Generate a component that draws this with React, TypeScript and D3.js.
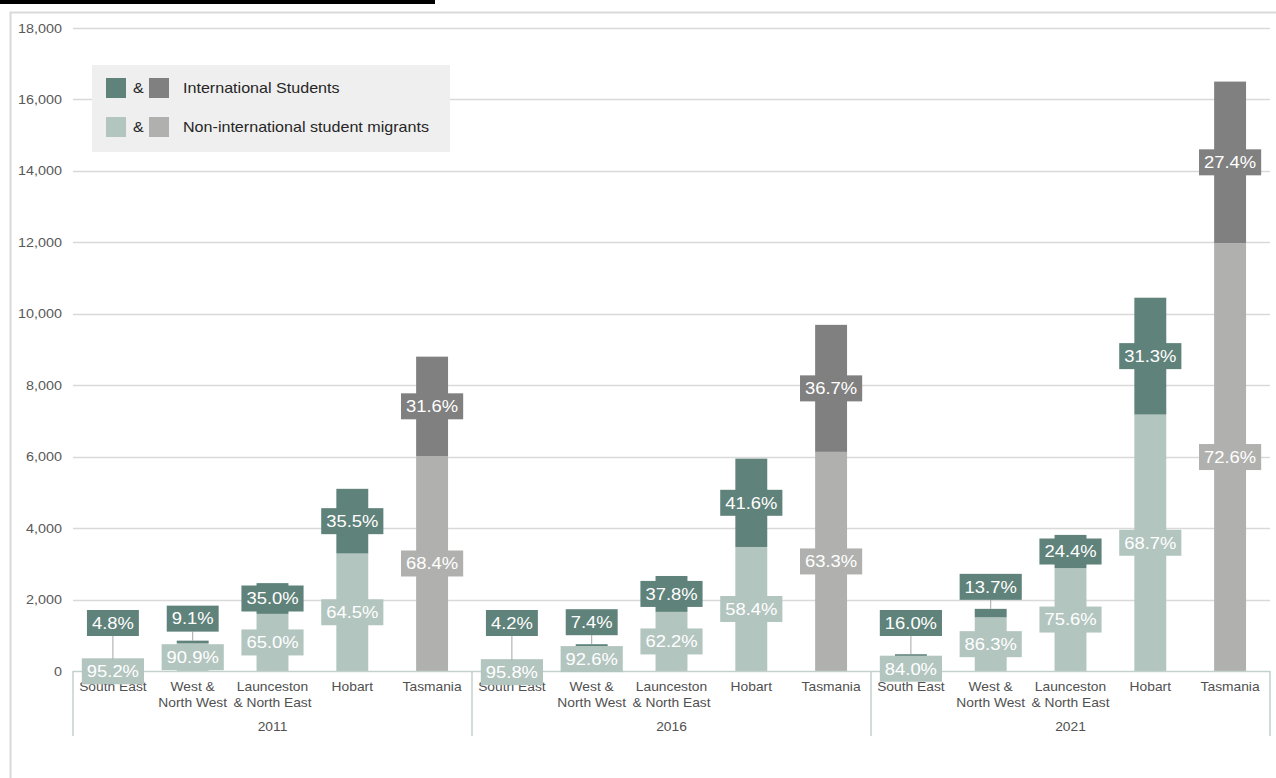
import * as d3 from "d3";
import React, { useEffect, useRef } from "react";

// regions and census years
const regions = ["South East", "West &\nNorth West", "Launceston\n& North East", "Hobart", "Tasmania"];
const years = ["2011", "2016", "2021"];

// counts (international students / other migrants), per year
const intl2011 = [16, 77, 861, 1811, 2781];
const other2011 = [314, 773, 1599, 3289, 6019];
const intl2016 = [13, 56, 1005, 2473, 3556];
const other2016 = [287, 694, 1655, 3472, 6134];
const intl2021 = [75, 238, 930, 3271, 4521];
const other2021 = [395, 1502, 2880, 7179, 11979];

// share labels as printed on the chart
const intlPct2011 = ["4.8%", "9.1%", "35.0%", "35.5%", "31.6%"];
const otherPct2011 = ["95.2%", "90.9%", "65.0%", "64.5%", "68.4%"];
const intlPct2016 = ["4.2%", "7.4%", "37.8%", "41.6%", "36.7%"];
const otherPct2016 = ["95.8%", "92.6%", "62.2%", "58.4%", "63.3%"];
const intlPct2021 = ["16.0%", "13.7%", "24.4%", "31.3%", "27.4%"];
const otherPct2021 = ["84.0%", "86.3%", "75.6%", "68.7%", "72.6%"];

const yTicks = [0, 2000, 4000, 6000, 8000, 10000, 12000, 14000, 16000, 18000];
const legendItems = ["International Students", "Non-international student migrants"];

const width = 1276;
const height = 778;
const SX = 1.15; // text in the original is a bit wide
const FONT = "'Liberation Sans', Arial, sans-serif";

const colors = {
    intl: "#5f827a",
    other: "#b3c5bf",
    intlTas: "#808080",
    otherTas: "#b0b1ae",
};

const App: React.FC = () => {
    const wrapper = useRef<SVGSVGElement>(null);

    useEffect(() => {
        if (!wrapper.current) return;
        const svg = d3.select(wrapper.current);
        svg.selectAll("*").remove();

        const rows = [
            { year: years[0], intl: intl2011, other: other2011, ip: intlPct2011, op: otherPct2011 },
            { year: years[1], intl: intl2016, other: other2016, ip: intlPct2016, op: otherPct2016 },
            { year: years[2], intl: intl2021, other: other2021, ip: intlPct2021, op: otherPct2021 },
        ];
        const bars = rows.flatMap((r) =>
            regions.map((reg, i) => ({
                key: `${r.year}-${i}`,
                year: r.year,
                region: reg,
                tas: i === regions.length - 1,
                intl: r.intl[i],
                other: r.other[i],
                ip: r.ip[i],
                op: r.op[i],
            }))
        );

        const left = 73;
        const right = 1270;
        const x = d3.scaleBand<string>()
            .domain(bars.map((b) => b.key))
            .range([left, right])
            .paddingInner(0.6)
            .paddingOuter(0.3);
        const step = x.step();
        const y = d3.scaleLinear().domain([0, 18000]).range([671, 28]);
        const y0 = y(0);

        const txt = (
            g: d3.Selection<any, unknown, null, undefined>,
            tx: number, ty: number, s: string, size: number, anchor: string, fill: string
        ) =>
            g.append("text")
                .attr("transform", `translate(${tx},${ty}) scale(${SX},1)`)
                .attr("text-anchor", anchor)
                .attr("font-family", FONT)
                .attr("font-size", size)
                .attr("fill", fill)
                .text(s);

        // top rule and chart frame
        svg.append("rect").attr("x", 0).attr("y", 0).attr("width", 435).attr("height", 4).attr("fill", "#000");
        svg.append("path")
            .attr("d", `M10.5,${height} V12.5 H${width}`)
            .attr("fill", "none")
            .attr("stroke", "#d9d9d9")
            .attr("stroke-width", 2);

        // grid + y labels
        const grid = svg.append("g");
        yTicks.forEach((t) => {
            if (t > 0) {
                grid.append("line")
                    .attr("x1", left).attr("x2", right)
                    .attr("y1", Math.round(y(t)) + 0.5).attr("y2", Math.round(y(t)) + 0.5)
                    .attr("stroke", "#d9d9d9").attr("stroke-width", 1.5);
            }
            txt(grid, 62, y(t) + 4.5, d3.format(",")(t), 12.5, "end", "#595959");
        });

        // legend
        const lg = svg.append("g");
        lg.append("rect").attr("x", 92).attr("y", 65).attr("width", 358).attr("height", 87).attr("fill", "#efefef");
        legendItems.forEach((name, i) => {
            const cy = 88 + i * 39;
            lg.append("rect").attr("x", 106).attr("y", cy - 10).attr("width", 20).attr("height", 20)
                .attr("fill", i === 0 ? colors.intl : colors.other);
            txt(lg, 133, cy + 5, "&", 14, "start", "#262626");
            lg.append("rect").attr("x", 149).attr("y", cy - 10).attr("width", 20).attr("height", 20)
                .attr("fill", i === 0 ? colors.intlTas : colors.otherTas);
            txt(lg, 183, cy + 5, name, 14, "start", "#262626");
        });

        // bars
        const bg = svg.append("g");
        bars.forEach((b) => {
            const bx = x(b.key)!;
            const bw = x.bandwidth();
            bg.append("rect")
                .attr("x", bx).attr("width", bw)
                .attr("y", y(b.other)).attr("height", y0 - y(b.other))
                .attr("fill", b.tas ? colors.otherTas : colors.other);
            bg.append("rect")
                .attr("x", bx).attr("width", bw)
                .attr("y", y(b.other + b.intl)).attr("height", y(b.other) - y(b.other + b.intl))
                .attr("fill", b.tas ? colors.intlTas : colors.intl);
        });

        // category axis
        const ax = svg.append("g");
        const axisColor = "#c3d1cd";
        ax.append("line").attr("x1", left).attr("x2", right).attr("y1", y0 + 0.5).attr("y2", y0 + 0.5)
            .attr("stroke", axisColor).attr("stroke-width", 1.5);
        years.forEach((yr, gi) => {
            const gx0 = left + gi * 5 * step;
            ax.append("line").attr("x1", gx0).attr("x2", gx0).attr("y1", y0).attr("y2", 736)
                .attr("stroke", axisColor).attr("stroke-width", 1.5);
            txt(ax, gx0 + 2.5 * step, 731, yr, 12, "middle", "#505050");
        });
        ax.append("line").attr("x1", right).attr("x2", right).attr("y1", y0).attr("y2", 736)
            .attr("stroke", axisColor).attr("stroke-width", 1.5);
        bars.forEach((b) => {
            const cx = x(b.key)! + x.bandwidth() / 2;
            b.region.split("\n").forEach((line, li) => {
                txt(ax, cx, 691 + li * 16, line, 12, "middle", "#505050");
            });
        });

        // data labels
        const lbl = svg.append("g");
        const boxH = 26;
        const label = (cx: number, cy: number, s: string, fill: string) => {
            const g = lbl.append("g");
            const rect = g.append("rect").attr("fill", fill);
            const t = txt(g, cx, cy + 5.8, s, 16, "middle", "#ffffff");
            const w = (t.node() as SVGTextElement).getComputedTextLength() * SX + 10;
            rect.attr("x", cx - w / 2).attr("y", cy - boxH / 2).attr("width", w).attr("height", boxH);
        };
        bars.forEach((b) => {
            const cx = x(b.key)! + x.bandwidth() / 2;
            const top = y(b.other + b.intl);
            const mid = y(b.other);
            const intlH = mid - top;
            const otherH = y0 - mid;

            let oc = (y0 + mid) / 2;
            oc += Math.max(0, boxH / 2 - otherH / 2) * 0.8;
            label(cx, oc, b.op, b.tas ? colors.otherTas : colors.other);

            if (intlH >= boxH) {
                label(cx, (top + mid) / 2, b.ip, b.tas ? colors.intlTas : colors.intl);
            } else {
                const ic = Math.min(top - 22, y0 - 48);
                if (top - (ic + boxH / 2) > 3) {
                    lbl.append("line")
                        .attr("x1", cx).attr("x2", cx)
                        .attr("y1", ic + boxH / 2).attr("y2", top)
                        .attr("stroke", "#a6a6a6").attr("stroke-width", 1);
                }
                label(cx, ic, b.ip, colors.intl);
            }
        });
    }, []);

    return (
        <svg
            ref={wrapper}
            width={width}
            height={height}
            style={{ position: "absolute", left: 0, top: 0, background: "#fff" }}
        />
    );
};

export default App;
